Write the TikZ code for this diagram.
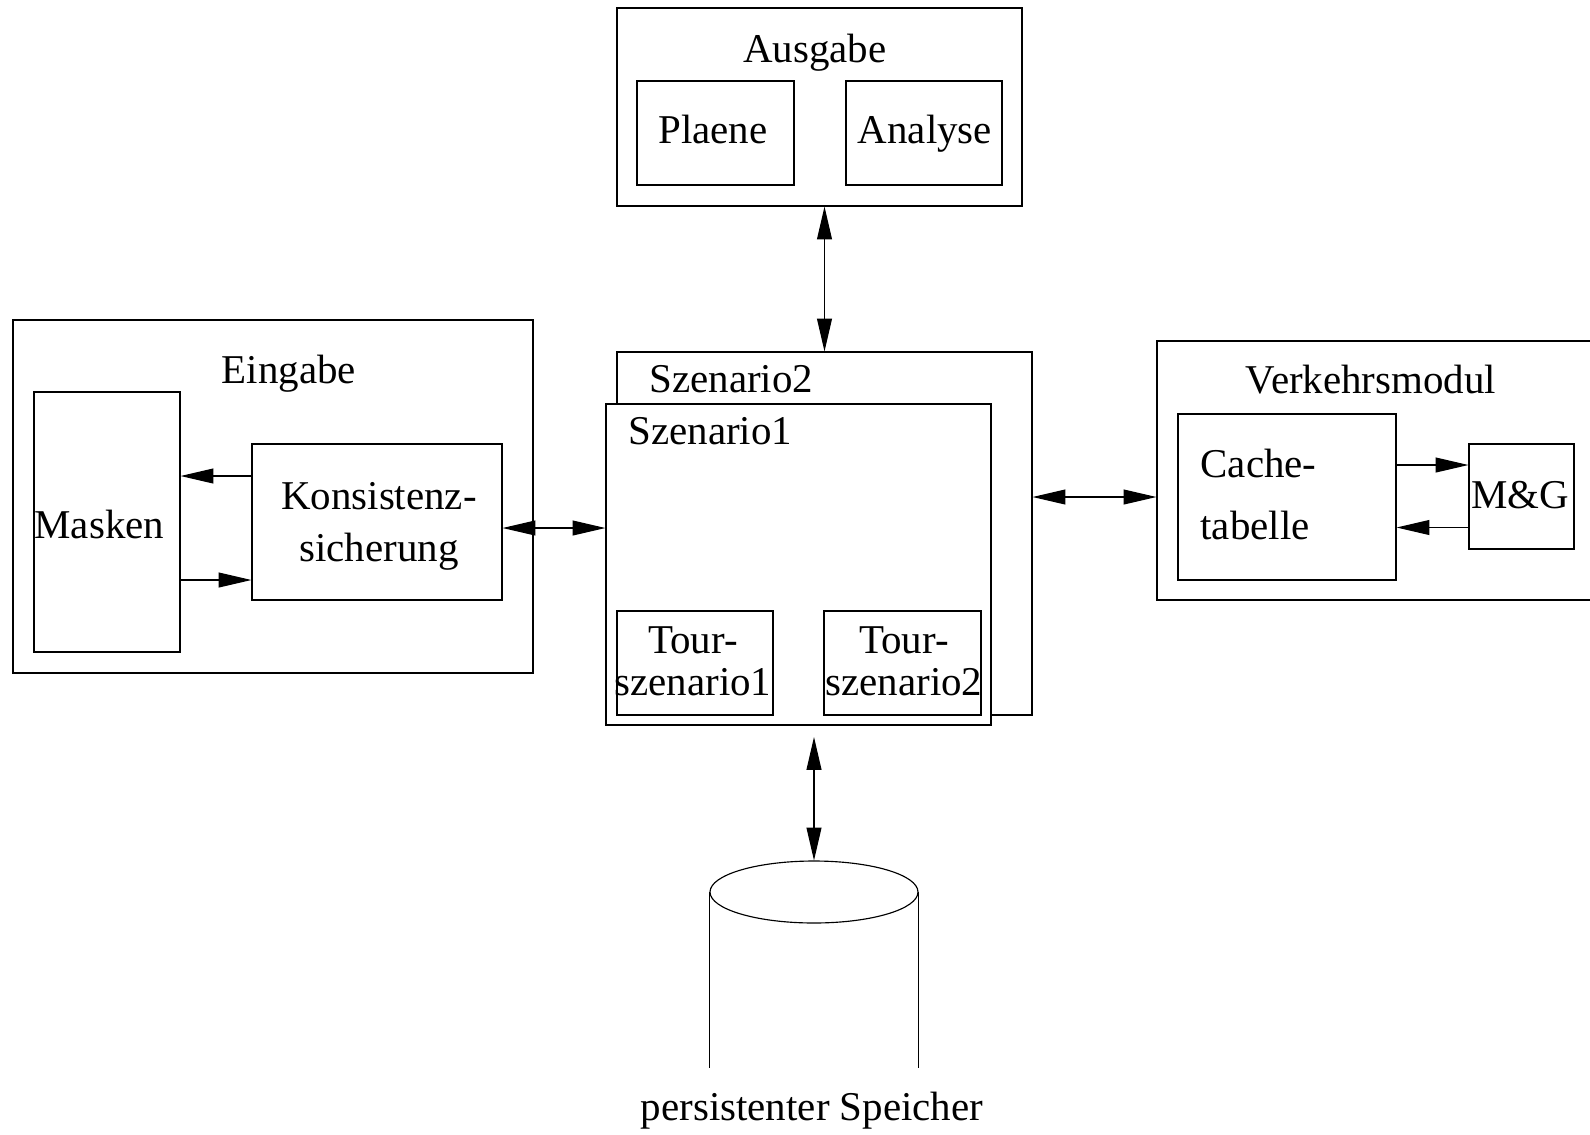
\documentclass[tikz,border=0pt]{standalone}
\usepackage{fontspec}
\setmainfont{Liberation Serif}
\usetikzlibrary{arrows.meta,fit,calc,shapes.geometric}

\begin{document}
\begin{tikzpicture}[x=0.02cm,y=-0.02cm,line width=0.65pt,
  >={Triangle[length=18.7pt,width=8.5pt]},
  box/.style={draw,inner sep=0pt,fit={#1}},
  lbl/.style={inner sep=0pt,font=\fontsize{23.3}{29.6}\selectfont},
  eng/.style={lbl,font=\fontsize{23.3}{23.8}\selectfont}]
\clip (0,0) rectangle (1590,1134);

\node[box={(617,8) (1022,206)}] (ausgabe) {};
\node[box={(637,81) (794,185)}] (plaene) {};
\node[box={(846,81) (1002,185)}] (analyse) {};
\node[lbl,anchor=base] (t-ausgabe) at (815,62) {Ausgabe};
\node[lbl,anchor=base] (t-plaene) at (713,143) {Plaene};
\node[lbl,anchor=base] (t-analyse) at (925,143) {Analyse};

\node[box={(13,320) (533,673)}] (eingabe) {};
\node[box={(34,392) (180,652)}] (masken) {};
\node[box={(252,444) (502,600)}] (kons) {};
\node[lbl,anchor=base] (t-eingabe) at (289,383) {Eingabe};
\node[lbl,anchor=base west] (t-masken) at (34,538) {Masken};
\node[lbl,anchor=base,align=center] (t-kons) at (379,561) {Konsistenz-\\sicherung};

\node[box={(617,352) (1032,715)}] (sz2) {};
\node[box={(606,404) (991,725)},fill=white] (sz1) {};
\node[box={(617,611) (773,715)}] (tour1) {};
\node[box={(824,611) (981,715)}] (tour2) {};
\node[lbl,anchor=base west] (t-sz2) at (649,392) {Szenario2};
\node[lbl,anchor=base west] (t-sz1) at (628,444) {Szenario1};
\node[eng,anchor=base,align=center] (t-tour1) at (693,695) {Tour-\\szenario1};
\node[eng,anchor=base,align=center] (t-tour2) at (904,695) {Tour-\\szenario2};

\node[box={(1157,341) (1600,600)}] (verkehr) {};
\node[box={(1178,414) (1396,580)}] (cache) {};
\node[box={(1469,444) (1574,549)}] (mg) {};
\node[lbl,anchor=base] (t-verkehr) at (1371,393) {Verkehrsmodul};
\node[lbl,anchor=base west,align=left,font=\fontsize{23.3}{35}\selectfont] (t-cache) at (1200,539) {Cache-\\tabelle};
\node[lbl,anchor=base] (t-mg) at (1520,508) {M\&G};

\node[draw,ellipse,inner sep=0pt,minimum width=4.16cm,minimum height=1.24cm] (db) at (814,892) {};
\draw (db.west) -- ++(0,176);
\draw (db.east) -- ++(0,176);
\node[lbl,anchor=base] (t-db) at (812,1120) {persistenter Speicher};
\coordinate (dbpfeil) at (814,737);

\draw[<->] (ausgabe.south -| sz2.north) -- (sz2.north);
\draw[<->] ($(kons.east)+(0,6)$) -- ($(kons.east -| sz1.west)+(0,6)$);
\draw[->] ($(kons.west)+(0,-46)$) -- ($(kons.west -| masken.east)+(0,-46)$);
\draw[->] ($(masken.east |- kons.west)+(0,58)$) -- ($(kons.west)+(0,58)$);
\draw[<->] (sz2.east |- cache.west) -- (verkehr.west |- cache.west);
\draw[->] ($(cache.east)+(0,-32)$) -- ($(cache.east -| mg.west)+(0,-32)$);
\draw[->] ($(mg.west)+(0,31)$) -- ($(mg.west -| cache.east)+(0,31)$);
\draw[<->] (dbpfeil) -- (db.north);
\end{tikzpicture}
\end{document}
